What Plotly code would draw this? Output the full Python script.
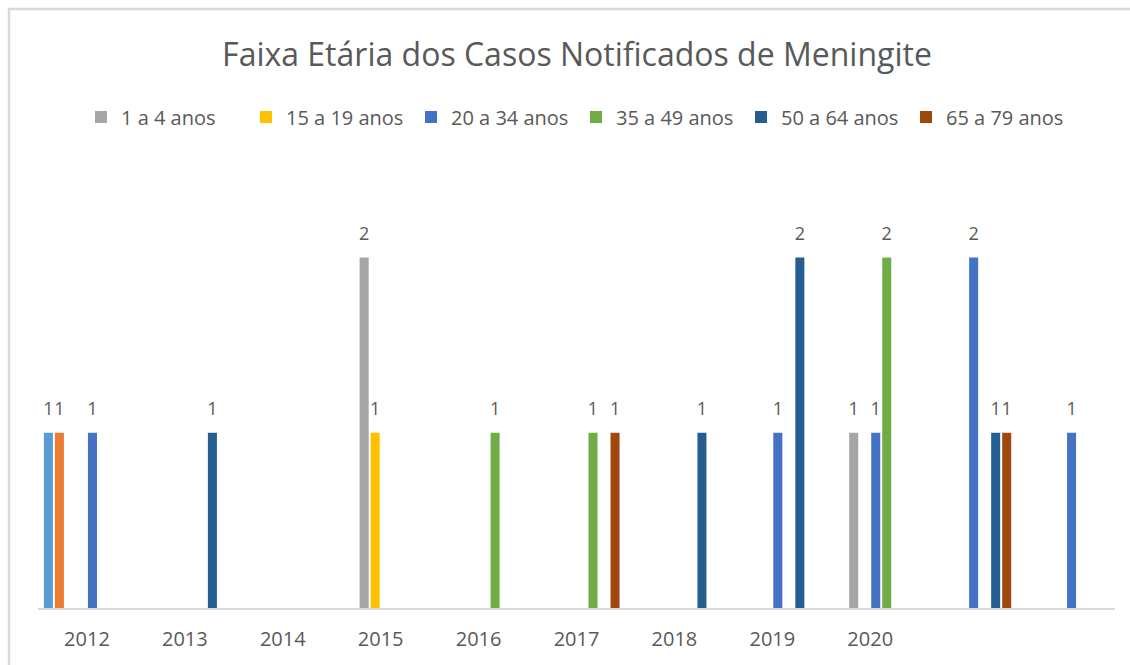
import plotly.graph_objects as go

categories = ["2012", "2013", "2014", "2015", "2016", "2017", "2018", "2019", "2020", "", ""]

series_names = ["< 1 ano", "5 a 9 anos", "1 a 4 anos", "15 a 19 anos", "20 a 34 anos",
                "35 a 49 anos", "50 a 64 anos", "65 a 79 anos"]
series_colors = ["#5B9BD5", "#ED7D31", "#A5A5A5", "#FFC000", "#4472C4",
                 "#70AD47", "#255E91", "#9E480E"]
series_in_legend = [False, False, True, True, True, True, True, True]

s_menor1 = [1, None, None, None, None, None, None, None, None, None, None]
s_5a9 = [1, None, None, None, None, None, None, None, None, None, None]
s_1a4 = [None, None, None, 2, None, None, None, None, 1, None, None]
s_15a19 = [None, None, None, 1, None, None, None, None, None, None, None]
s_20a34 = [1, None, None, None, None, None, None, 1, 1, 2, 1]
s_35a49 = [None, None, None, None, 1, 1, None, None, 2, None, None]
s_50a64 = [None, 1, None, None, None, None, 1, 2, None, 1, None]
s_65a79 = [None, None, None, None, None, 1, None, None, None, 1, None]

series_values = [s_menor1, s_5a9, s_1a4, s_15a19, s_20a34, s_35a49, s_50a64, s_65a79]

W, H = 1130, 665
ml, mr, mt, mb = 38, 15, 170, 57
pw = W - ml - mr
ph = H - mt - mb
FONT = "Open Sans"
TXT = "#595959"
BARGAP = 0.1

x_idx = list(range(len(categories)))
n = len(series_values)
slot = (1 - BARGAP) / n

fig = go.Figure()
for name, color, show, vals in zip(series_names, series_colors, series_in_legend, series_values):
    fig.add_trace(go.Bar(
        x=x_idx, y=vals, name=name, marker=dict(color=color, line=dict(width=0)),
        showlegend=show, hoverinfo="x+y+name",
    ))

# data labels placed above each bar, at the bar's group slot
for k, (name, vals) in enumerate(zip(series_names, series_values)):
    xs, ys, ts = [], [], []
    for i, v in zip(x_idx, vals):
        if v is None:
            continue
        xs.append(i + (k - (n - 1) / 2) * slot)
        ys.append(v)
        ts.append(str(v))
    fig.add_trace(go.Scatter(
        x=xs, y=ys, text=ts, mode="markers+text", textposition="top center",
        marker=dict(size=20, opacity=0), showlegend=False, hoverinfo="skip",
        textfont=dict(family=FONT, size=18, color=TXT), cliponaxis=False,
    ))

border_color = "#D9D9D9"
fig.update_layout(
    width=W, height=H,
    margin=dict(l=ml, r=mr, t=mt, b=mb),
    paper_bgcolor="white", plot_bgcolor="white",
    barmode="group", bargap=BARGAP, bargroupgap=0.18,
    font=dict(family=FONT, color=TXT),
    title=dict(text="Faixa Etária dos Casos Notificados de Meningite",
               x=577 / W, xanchor="center", y=1 - 55 / H, yanchor="middle",
               font=dict(family=FONT, size=32, color=TXT)),
    legend=dict(orientation="h", x=(81 - ml) / pw, xanchor="left",
                y=(H - mb - 117) / ph, yanchor="middle",
                font=dict(family=FONT, size=20, color=TXT),
                itemwidth=30, entrywidth=120, traceorder="normal"),
    xaxis=dict(range=[-0.5, len(categories) - 0.5], tickmode="array",
               tickvals=x_idx, ticktext=categories, showgrid=False,
               showline=True, linecolor=border_color, linewidth=2,
               ticks="", ticklabelstandoff=12,
               tickfont=dict(family=FONT, size=20, color=TXT),
               zeroline=False),
    yaxis=dict(range=[0, 2.5], visible=False, showgrid=False, zeroline=False),
    shapes=[dict(type="rect", xref="paper", yref="paper",
                 x0=(9 - ml) / pw, x1=(W + 10 - ml) / pw,
                 y0=-(mb + 10) / ph, y1=(H - mb - 9) / ph,
                 line=dict(color=border_color, width=2.5), fillcolor="rgba(0,0,0,0)")],
)

fig.write_html("out.html", config={"displayModeBar": False},
               post_script="document.body.style.margin='0';")
